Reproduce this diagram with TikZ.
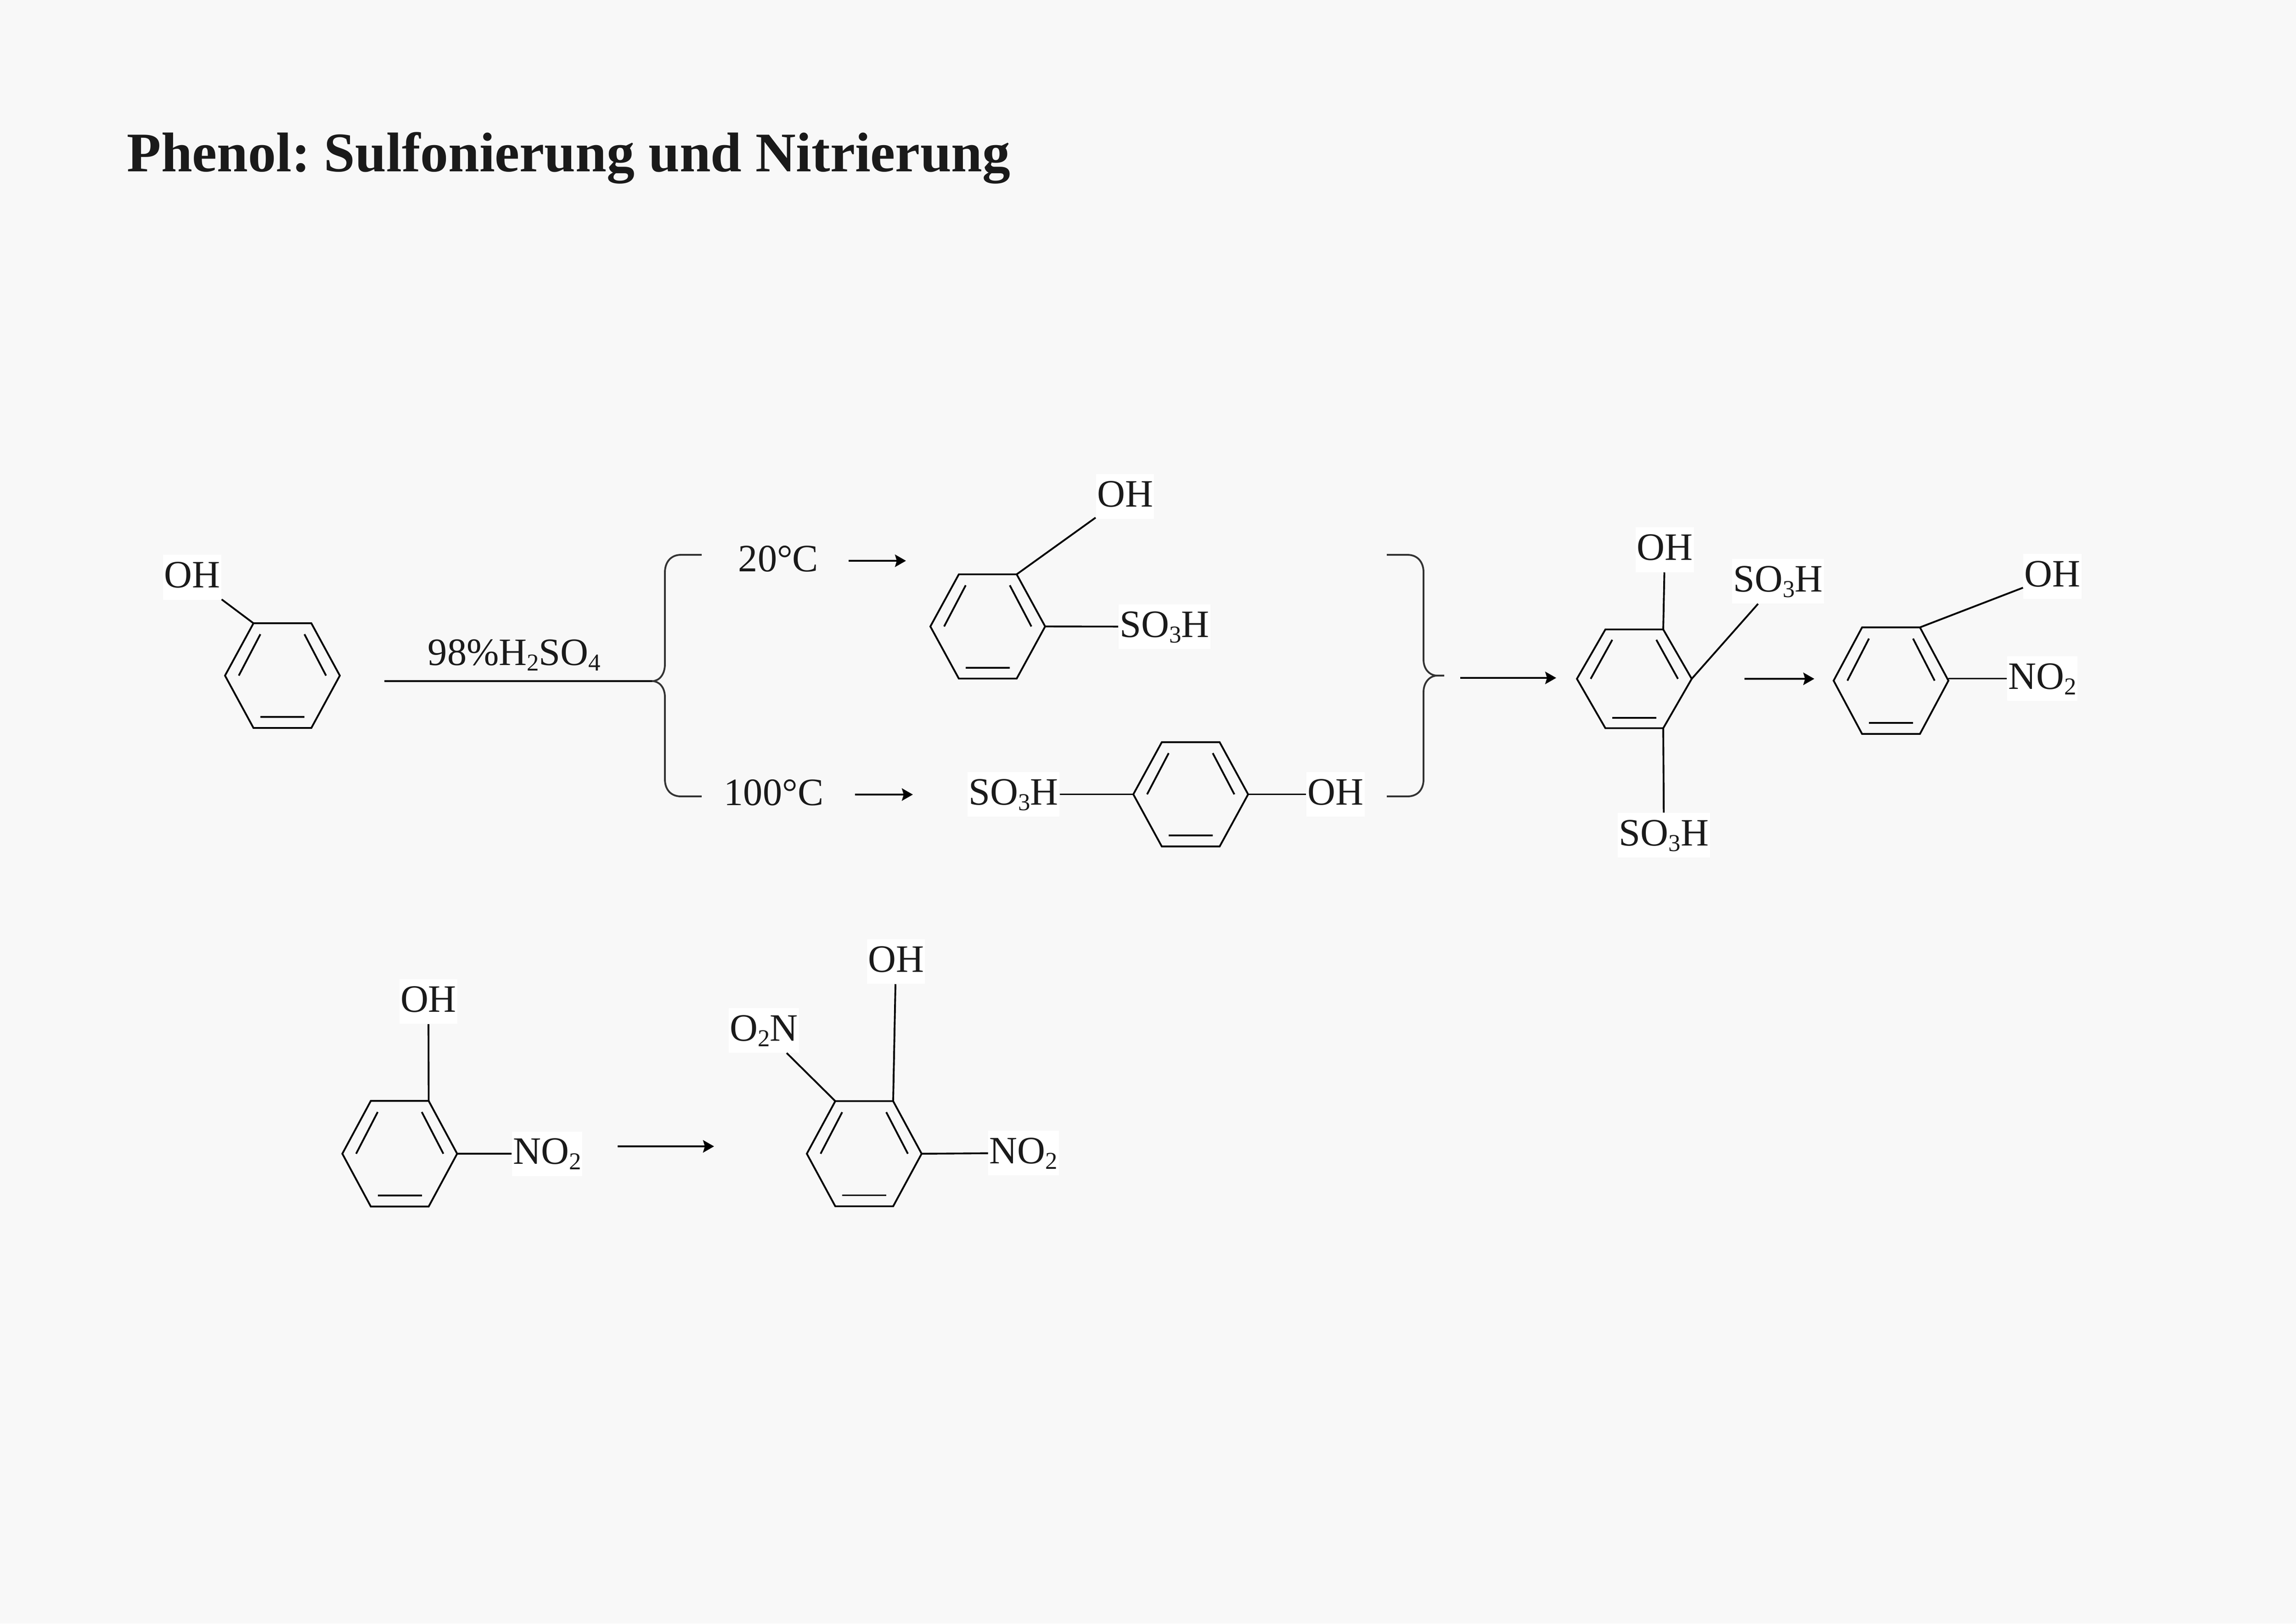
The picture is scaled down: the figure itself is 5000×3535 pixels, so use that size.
\documentclass[tikz,border=0pt]{standalone}
\usepackage{fontspec}
\setmainfont{Liberation Serif}
\usetikzlibrary{calc}
\usetikzlibrary{arrows.meta}
\frenchspacing
\definecolor{pagecolor}{HTML}{F8F8F8}
\definecolor{inkcolor}{HTML}{1A1A1A}
\definecolor{bracecolor}{HTML}{333333}
\tikzset{
	bondstyle/.style={draw=black,line width=1.1pt},
	arrowstyle/.style={draw=black,line width=1.1pt,-{Stealth[length=0.24cm,width=0.27cm,inset=0.04cm]}},
	bracestyle/.style={draw=bracecolor,line width=1.1pt},
	groupstyle/.style={rectangle,fill=white,text=inkcolor,inner xsep=0.025cm,inner ysep=0pt,text height=0.71cm,text depth=0.26cm,font=\fontsize{24pt}{24pt}\selectfont},
	plainstyle/.style={anchor=base,text=inkcolor,inner sep=0pt,font=\fontsize{24pt}{24pt}\selectfont},
	titlestyle/.style={anchor=base west,text=inkcolor,inner sep=0pt,font=\fontsize{34.6pt}{34.6pt}\selectfont\bfseries}
}
\newcommand{\chemsub}[1]{\raisebox{-0.12cm}{\fontsize{15pt}{15pt}\selectfont #1}}
\newcommand{\benzene}[4]{
	\coordinate (#1c) at (#2,#3);
	\coordinate (#11) at (#2+63,#3-#4);
	\coordinate (#12) at (#2+125,#3);
	\coordinate (#13) at (#2+63,#3+#4);
	\coordinate (#14) at (#2-63,#3+#4);
	\coordinate (#15) at (#2-125,#3);
	\coordinate (#16) at (#2-63,#3-#4);
	\draw[bondstyle] (#11)--(#12)--(#13)--(#14)--(#15)--(#16)--cycle;
	\draw[bondstyle] (#2+48,#3-0.79*#4)--(#2+95,#3);
	\draw[bondstyle] (#2-48,#3-0.79*#4)--(#2-95,#3);
	\draw[bondstyle] (#2-48,#3+0.79*#4)--(#2+48,#3+0.79*#4);
}

\begin{document}
\begin{tikzpicture}[x=0.01cm,y=-0.01cm]
	\useasboundingbox (0,0) rectangle (5000,3535);
	\fill[pagecolor] (0,0) rectangle (5000,3535);
	\node[titlestyle] (title) at (276,373) {Phenol: Sulfonierung und Nitrierung};

	\benzene{a}{615}{1471}{114}
	\node[groupstyle] (aoh) at (418.5,1257) {OH};
	\draw[bondstyle] (aoh)--(a6);

	\coordinate (rs) at (837,1483);
	\coordinate (ltip) at (1420,1483);
	\node[plainstyle] (reagent) at (1120,1448) {98\%H\chemsub{2}SO\chemsub{4}};
	\draw[bondstyle] (rs)--(ltip);
	\draw[bracestyle] (1528,1208)--(1483,1208) .. controls (1460,1208) and (1448,1225) .. (1448,1246)--(1448,1446) .. controls (1448,1468) and (1436,1483) .. (ltip) .. controls (1436,1483) and (1448,1497) .. (1448,1518)--(1448,1697) .. controls (1448,1718) and (1460,1734) .. (1483,1734)--(1528,1734);

	\node[plainstyle] (low) at (1695,1244) {20°C};
	\node[plainstyle] (high) at (1685,1753) {100°C};
	\coordinate (lows) at (1848,1221);
	\coordinate (lowe) at (1973,1221);
	\coordinate (highs) at (1862,1730);
	\coordinate (highe) at (1988,1730);
	\draw[arrowstyle] (lows)--(lowe);
	\draw[arrowstyle] (highs)--(highe);

	\benzene{b}{2151}{1364}{113.5}
	\node[groupstyle] (boh) at (2450,1081) {OH};
	\node[groupstyle] (bso) at (2536,1364.5) {SO\chemsub{3}H};
	\draw[bondstyle] (boh)--(b1);
	\draw[bondstyle] (bso)--(b2);

	\benzene{c}{2593}{1729.5}{113.5}
	\node[groupstyle] (cso) at (2207,1729.5) {SO\chemsub{3}H};
	\node[groupstyle] (coh) at (2908.5,1729.5) {OH};
	\draw[bondstyle] (cso)--(c5);
	\draw[bondstyle] (coh)--(c2);

	\coordinate (rtip) at (3145,1471);
	\draw[bracestyle] (3020,1208)--(3065,1208) .. controls (3088,1208) and (3100,1225) .. (3100,1246)--(3100,1436) .. controls (3100,1458) and (3114,1471) .. (3130,1471)--(rtip)--(3130,1471) .. controls (3114,1471) and (3100,1485) .. (3100,1507)--(3100,1697) .. controls (3100,1718) and (3088,1734) .. (3065,1734)--(3020,1734);
	\coordinate (ds) at (3180,1476);
	\coordinate (de) at (3389,1476);
	\draw[arrowstyle] (ds)--(de);

	\benzene{d}{3559}{1478}{107.5}
	\node[groupstyle] (doh) at (3625.5,1197) {OH};
	\node[groupstyle] (dsa) at (3872,1265.5) {SO\chemsub{3}H};
	\node[groupstyle] (dsb) at (3623.5,1818.5) {SO\chemsub{3}H};
	\draw[bondstyle] (doh)--(d1);
	\draw[bondstyle] (dsa)--(d2);
	\draw[bondstyle] (dsb)--(d3);

	\coordinate (es) at (3799,1478);
	\coordinate (ee) at (3951,1478);
	\draw[arrowstyle] (es)--(ee);

	\benzene{e}{4118}{1482}{116}
	\node[groupstyle] (eoh) at (4469.5,1255) {OH};
	\node[groupstyle] (eno) at (4447.5,1477.5) {NO\chemsub{2}};
	\draw[bondstyle] (eoh)--(e1);
	\draw[bondstyle] (eno)--(eno-|e2);

	\benzene{f}{870.5}{2512}{115}
	\node[groupstyle] (foh) at (933,2180.5) {OH};
	\node[groupstyle] (fno) at (1191.5,2512) {NO\chemsub{2}};
	\draw[bondstyle] (foh)--(f1);
	\draw[bondstyle] (fno)--(f2);

	\coordinate (gs) at (1345,2496);
	\coordinate (ge) at (1555,2496);
	\draw[arrowstyle] (gs)--(ge);

	\benzene{g}{1882}{2512}{114.5}
	\node[groupstyle] (goh) at (1951,2093.5) {OH};
	\node[groupstyle] (gon) at (1663.5,2243.5) {O\chemsub{2}N};
	\node[groupstyle] (gno) at (2229,2510.5) {NO\chemsub{2}};
	\draw[bondstyle] (goh)--(g1);
	\draw[bondstyle] (gon)--(g6);
	\draw[bondstyle] (gno)--(g2);
\end{tikzpicture}
\end{document}
